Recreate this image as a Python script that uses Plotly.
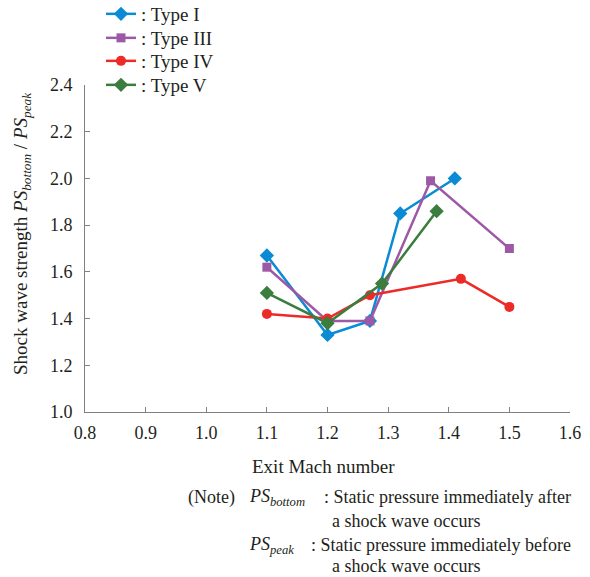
import plotly.graph_objects as go

# Exit Mach number vs. shock wave strength for each shock type
type1_x = [1.10, 1.20, 1.27, 1.32, 1.41]
type1_y = [1.67, 1.33, 1.39, 1.85, 2.00]

type3_x = [1.10, 1.20, 1.27, 1.37, 1.50]
type3_y = [1.62, 1.39, 1.39, 1.99, 1.70]

type4_x = [1.10, 1.20, 1.27, 1.42, 1.50]
type4_y = [1.42, 1.40, 1.50, 1.57, 1.45]

type5_x = [1.10, 1.20, 1.29, 1.38]
type5_y = [1.51, 1.38, 1.55, 1.86]

x_ticks = [0.8, 0.9, 1.0, 1.1, 1.2, 1.3, 1.4, 1.5, 1.6]
y_ticks = [1.0, 1.2, 1.4, 1.6, 1.8, 2.0, 2.2, 2.4]

FONT = "Liberation Serif"
TEXT = "#231f20"
AXIS = "#808080"
FS = 18

W, H = 590, 577
ML, MR, MT, MB = 0, 20, 0, 165
PW, PH = W - ML - MR, H - MT - MB  # paper area in pixels
PLOT_L, PLOT_T = 85, 85            # plot-area offsets inside the paper

series = [
    (": Type I", type1_x, type1_y, "#0a8bd3", "diamond", 11),
    (": Type III", type3_x, type3_y, "#9d59a6", "square", 9),
    (": Type IV", type4_x, type4_y, "#ec2a27", "circle", 10),
    (": Type V", type5_x, type5_y, "#3a7d3f", "diamond", 11),
]
legend_rows = [14, 38, 61, 85]  # vertical centre of each key entry (px)


def px_x(p):
    return (p - ML) / PW


def px_y(p):
    return 1 - (p - MT) / PH


fig = go.Figure()
legend_layout = {}
for i, (name, xs, ys, color, symbol, size) in enumerate(series):
    key = "legend" if i == 0 else f"legend{i + 1}"
    fig.add_trace(go.Scatter(
        x=xs, y=ys, name=name, mode="lines+markers", legend=key,
        line=dict(color=color, width=2.5),
        marker=dict(symbol=symbol, size=size, color=color),
    ))
    # one key entry per legend box so the rows sit at fixed heights
    legend_layout[key] = dict(
        x=px_x(101), y=px_y(legend_rows[i]), xanchor="left", yanchor="middle",
        bgcolor="rgba(0,0,0,0)", font=dict(size=19, color=TEXT, family=FONT),
        itemwidth=30,
    )

fig.update_layout(
    width=W, height=H,
    margin=dict(l=ML, r=MR, t=MT, b=MB, autoexpand=False),
    paper_bgcolor="white", plot_bgcolor="white",
    font=dict(family=FONT, size=FS, color=TEXT),
    showlegend=True,
    xaxis=dict(
        domain=[px_x(PLOT_L), 1], automargin=False,
        range=[0.8, 1.6], tickvals=x_ticks,
        ticktext=[f"{v:.1f}" for v in x_ticks],
        showgrid=False, zeroline=False,
        showline=True, linecolor=AXIS, linewidth=1,
        ticks="inside", ticklen=5, tickcolor=AXIS,
        ticklabelstandoff=4,
    ),
    yaxis=dict(
        domain=[0, px_y(PLOT_T)], automargin=False,
        range=[1.0, 2.4], tickvals=y_ticks,
        ticktext=[f"{v:.1f}" for v in y_ticks],
        showgrid=False, zeroline=False,
        showline=True, linecolor=AXIS, linewidth=1,
        ticks="inside", ticklen=5, tickcolor=AXIS,
        ticklabelstandoff=8,
    ),
    **legend_layout,
)

# Axis titles
fig.add_annotation(
    x=px_x(323), y=px_y(466), xref="paper", yref="paper",
    xanchor="center", yanchor="middle", showarrow=False,
    text="Exit Mach number", font=dict(size=19, color=TEXT, family=FONT),
)
fig.add_annotation(
    x=px_x(22), y=px_y(234), xref="paper", yref="paper",
    xanchor="center", yanchor="middle", showarrow=False, textangle=-90,
    text="Shock wave strength <i>PS</i><sub><i>bottom</i></sub> / <i>PS</i><sub><i>peak</i></sub>",
    font=dict(size=19, color=TEXT, family=FONT),
)

# Explanatory note beneath the x-axis title
note_lines = [
    (186, 497, "(Note)"),
    (247, 497, "<i>PS</i><sub><i>bottom</i></sub>"),
    (322, 497, ": Static pressure immediately after"),
    (330, 521, "a shock wave occurs"),
    (247, 545, "<i>PS</i><sub><i>peak</i></sub>"),
    (309, 545, ": Static pressure immediately before"),
    (330, 566, "a shock wave occurs"),
]
for x0, y0, txt in note_lines:
    fig.add_annotation(
        x=px_x(x0), y=px_y(y0), xref="paper", yref="paper",
        xanchor="left", yanchor="middle", showarrow=False,
        text=txt, font=dict(size=FS, color=TEXT, family=FONT),
    )

fig.write_html("out.html")
